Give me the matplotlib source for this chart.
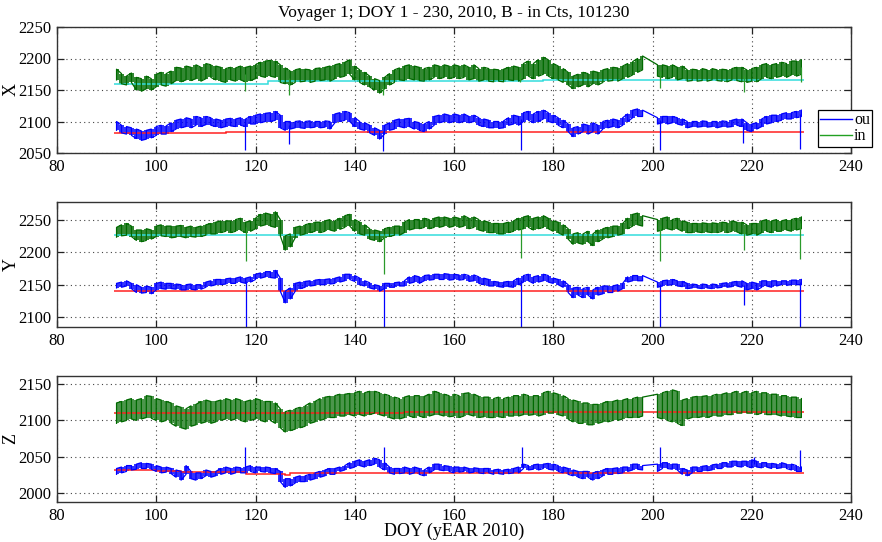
import matplotlib
matplotlib.use('Agg')
import matplotlib.pyplot as plt
import numpy as np
from matplotlib.lines import Line2D

plt.rcParams['font.family'] = ['Liberation Serif', 'DejaVu Serif']

N = None
# day-of-year bins (daily min/max)
DOY = list(range(92, 231))

# ---------------- X component ----------------
X_in_lo = [2166,2160,2158,2162,2150,2148,2152,2150,2155,2158,
           2156,2160,2165,2163,2166,2165,2168,2164,2168,2170,
           2166,2164,2162,2166,2164,2166,2163,2165,2168,2172,
           2170,2172,2170,2162,2160,2158,2162,2163,2164,2162,
           2164,2165,2166,2164,2168,2170,2172,2175,2166,2162,
           2158,2155,2150,2145,2152,2158,2162,2166,2165,2168,
           2166,2165,2164,2166,2170,2168,2170,2168,2170,2168,
           2170,2166,2168,2164,2166,2164,2163,2164,2163,2166,
           2165,2164,2168,2172,2168,2172,2175,2172,2168,2166,
           2162,2158,2152,2155,2158,2155,2160,2158,2162,2164,
           2165,2164,2168,2170,2174,2178,2182,N,N,2172,
           2170,2168,2170,2166,2168,2164,2165,2164,2165,2164,
           2166,2165,2164,2163,2166,2165,2163,2162,2164,2163,
           2168,2170,2168,2170,2172,2170,2174,2172,2175]
X_in_hi = [2183,2176,2172,2177,2170,2168,2172,2168,2175,2178,
           2176,2180,2186,2185,2188,2186,2190,2186,2192,2190,
           2188,2186,2184,2186,2185,2188,2186,2188,2190,2194,
           2196,2197,2196,2190,2185,2180,2182,2184,2183,2182,
           2184,2185,2186,2188,2190,2192,2194,2198,2188,2182,
           2178,2172,2168,2165,2170,2176,2182,2185,2188,2190,
           2188,2186,2184,2186,2190,2188,2190,2188,2190,2188,
           2190,2186,2190,2184,2186,2184,2183,2182,2183,2186,
           2188,2186,2192,2196,2192,2198,2202,2198,2192,2188,
           2184,2178,2172,2175,2178,2176,2180,2178,2182,2184,
           2186,2185,2188,2192,2195,2200,2204,N,N,2190,
           2190,2188,2190,2186,2188,2182,2183,2182,2184,2182,
           2184,2182,2183,2182,2184,2186,2186,2182,2184,2186,
           2190,2192,2190,2192,2194,2192,2196,2196,2198]
X_ou_lo = [2086,2082,2080,2078,2073,2070,2072,2074,2078,2080,
           2080,2084,2088,2090,2092,2090,2094,2092,2095,2094,
           2092,2090,2092,2093,2092,2094,2092,2096,2096,2098,
           2100,2100,2102,2090,2086,2088,2090,2090,2089,2090,
           2091,2090,2091,2088,2098,2100,2102,2100,2092,2088,
           2086,2082,2078,2072,2080,2086,2088,2092,2090,2092,
           2088,2086,2084,2088,2094,2098,2100,2098,2100,2098,
           2100,2098,2100,2094,2092,2090,2090,2089,2090,2094,
           2096,2094,2100,2102,2098,2100,2104,2100,2098,2094,
           2090,2084,2076,2080,2084,2080,2084,2080,2088,2090,
           2092,2090,2094,2100,2106,2108,2108,N,N,2096,
           2098,2096,2098,2096,2094,2090,2092,2091,2092,2091,
           2092,2090,2092,2091,2092,2094,2092,2086,2084,2088,
           2092,2096,2098,2100,2102,2104,2104,2106,2108]
X_ou_hi = [2100,2094,2092,2090,2088,2085,2086,2088,2092,2094,
           2093,2098,2102,2104,2106,2104,2108,2106,2108,2106,
           2104,2102,2104,2105,2104,2106,2104,2108,2110,2112,
           2113,2114,2116,2110,2100,2100,2100,2101,2100,2101,
           2100,2100,2101,2100,2112,2114,2116,2114,2106,2100,
           2098,2094,2090,2086,2094,2098,2102,2104,2104,2105,
           2100,2098,2096,2100,2108,2110,2112,2110,2112,2110,
           2112,2108,2110,2106,2104,2102,2100,2100,2101,2106,
           2110,2108,2114,2116,2112,2116,2118,2114,2110,2106,
           2102,2096,2090,2092,2096,2094,2098,2094,2100,2102,
           2104,2102,2106,2112,2118,2120,2118,N,N,2106,
           2108,2108,2108,2106,2104,2100,2100,2100,2101,2100,
           2100,2100,2101,2100,2102,2104,2104,2098,2096,2098,
           2104,2108,2110,2110,2112,2114,2114,2116,2118]
X_in_spike_doy = [117.9, 126.8, 145.6, 173.3, 201.6, 218.4, 229.9]
X_in_spike_val = [2148, 2142, 2142, 2163, 2153, 2147, 2163]
X_ou_spike_doy = [117.8, 126.8, 145.7, 173.5, 201.5, 218.3, 229.8]
X_ou_spike_val = [2054, 2065, 2053, 2055, 2055, 2066, 2056]
X_in_ref_edges = [91.5, 122.5, 178, 230.5]
X_in_ref_vals = [2160, 2164, 2166]
X_ou_ref_edges = [91.5, 114, 180, 230.5]
X_ou_ref_vals = [2082, 2083, 2084]

# ---------------- Y component ----------------
Y_in_lo = [2223,2225,2226,2224,2218,2216,2218,2220,2224,2225,
           2224,2222,2223,2224,2222,2224,2223,2224,2226,2228,
           2228,2230,2232,2230,2232,2234,2230,2232,2236,2240,
           2242,2240,2238,2225,2203,2208,2222,2226,2228,2230,
           2232,2230,2232,2234,2232,2235,2238,2240,2232,2228,
           2226,2220,2218,2216,2222,2224,2226,2226,2230,2234,
           2236,2236,2238,2236,2238,2238,2240,2238,2240,2238,
           2240,2236,2238,2234,2232,2230,2230,2228,2228,2230,
           2232,2234,2236,2238,2234,2236,2238,2236,2232,2230,
           2226,2220,2212,2214,2212,2216,2210,2216,2220,2222,
           2224,2226,2228,2236,2240,2242,2240,N,N,2232,
           2234,2236,2234,2236,2232,2230,2230,2231,2230,2231,
           2230,2230,2232,2230,2232,2231,2228,2226,2228,2226,
           2230,2232,2230,2232,2232,2234,2232,2234,2236]
Y_in_hi = [2238,2242,2244,2240,2234,2234,2236,2234,2240,2242,
           2240,2240,2240,2241,2238,2240,2238,2240,2242,2244,
           2246,2248,2248,2248,2250,2252,2246,2248,2252,2258,
           2260,2258,2262,2250,2225,2228,2238,2240,2242,2244,
           2246,2246,2248,2250,2248,2252,2256,2258,2250,2246,
           2242,2236,2234,2232,2236,2238,2240,2240,2246,2250,
           2250,2250,2252,2250,2252,2254,2254,2252,2254,2252,
           2256,2252,2254,2250,2248,2246,2244,2244,2244,2246,
           2248,2252,2254,2256,2252,2254,2256,2252,2248,2246,
           2242,2236,2228,2230,2228,2232,2228,2234,2236,2238,
           2240,2240,2244,2252,2258,2260,2256,N,N,2250,
           2252,2254,2250,2252,2248,2246,2244,2244,2245,2244,
           2245,2244,2246,2245,2248,2246,2246,2242,2244,2244,
           2248,2250,2248,2250,2248,2250,2250,2252,2254]
Y_ou_lo = [2145,2146,2148,2144,2138,2137,2138,2136,2142,2144,
           2143,2144,2143,2142,2142,2143,2142,2143,2146,2148,
           2150,2150,2151,2152,2152,2154,2152,2154,2158,2160,
           2162,2161,2160,2140,2122,2128,2140,2144,2146,2148,
           2149,2150,2150,2151,2152,2154,2156,2158,2155,2150,
           2148,2145,2143,2140,2144,2146,2146,2148,2148,2152,
           2154,2152,2156,2157,2158,2158,2158,2157,2158,2157,
           2158,2155,2156,2152,2150,2148,2148,2147,2146,2147,
           2146,2150,2154,2156,2152,2154,2156,2154,2152,2150,
           2146,2138,2130,2134,2130,2134,2128,2134,2136,2138,
           2138,2140,2144,2154,2156,2156,2156,N,N,2146,
           2148,2149,2150,2148,2147,2144,2145,2145,2144,2145,
           2144,2145,2146,2146,2147,2148,2146,2142,2144,2142,
           2146,2148,2146,2148,2150,2149,2150,2150,2150]
Y_ou_hi = [2152,2154,2156,2152,2150,2146,2148,2146,2152,2154,
           2152,2152,2151,2150,2150,2151,2150,2150,2154,2156,
           2158,2158,2159,2160,2160,2162,2160,2162,2166,2168,
           2170,2170,2172,2160,2140,2145,2152,2154,2155,2156,
           2157,2158,2158,2159,2160,2162,2166,2166,2164,2160,
           2156,2153,2150,2148,2152,2152,2153,2154,2156,2162,
           2164,2162,2164,2165,2166,2166,2167,2166,2166,2165,
           2166,2164,2165,2162,2160,2158,2155,2154,2154,2155,
           2156,2160,2164,2166,2162,2164,2166,2164,2160,2158,
           2156,2150,2145,2146,2144,2146,2142,2146,2148,2148,
           2148,2150,2152,2162,2164,2164,2164,N,N,2154,
           2156,2157,2158,2156,2155,2152,2151,2150,2151,2150,
           2151,2150,2152,2153,2154,2155,2156,2152,2154,2152,
           2156,2156,2156,2156,2156,2156,2157,2157,2158]
Y_in_spike_doy = [118.0, 145.8, 173.5, 201.6, 218.4, 229.8]
Y_in_spike_val = [2187, 2167, 2191, 2186, 2204, 2190]
Y_ou_spike_doy = [118.0, 145.8, 173.5, 201.6, 218.4, 229.8]
Y_ou_spike_val = [2080, 2080, 2080, 2080, 2119, 2080]
Y_in_ref_edges = [91.5, 230.5]
Y_in_ref_vals = [2227]
Y_ou_ref_edges = [91.5, 230.5]
Y_ou_ref_vals = [2140]

# ---------------- Z component ----------------
Z_in_lo = [2096,2098,2100,2102,2100,2102,2104,2103,2100,2098,
           2100,2096,2092,2090,2088,2092,2094,2096,2098,2096,
           2098,2100,2102,2100,2102,2100,2098,2100,2102,2100,
           2098,2100,2096,2090,2084,2086,2088,2090,2092,2096,
           2098,2100,2102,2104,2104,2106,2106,2108,2106,2108,
           2106,2108,2110,2108,2106,2104,2102,2102,2104,2106,
           2104,2106,2104,2106,2108,2108,2106,2105,2106,2104,
           2106,2108,2106,2104,2105,2104,2104,2105,2104,2106,
           2106,2106,2108,2107,2108,2106,2108,2110,2110,2108,
           2106,2102,2098,2096,2096,2094,2094,2096,2098,2098,
           2100,2100,2102,2104,2104,2104,2106,N,N,2104,
           2102,2100,2098,2096,2093,2102,2104,2104,2105,2104,
           2106,2106,2106,2108,2108,2110,2110,2110,2110,2108,
           2110,2108,2108,2108,2106,2106,2105,2104,2104]
Z_in_hi = [2124,2126,2128,2130,2128,2130,2134,2133,2130,2128,
           2126,2124,2120,2118,2116,2120,2122,2126,2128,2126,
           2126,2128,2130,2128,2130,2128,2126,2128,2130,2128,
           2126,2126,2124,2116,2112,2114,2116,2118,2120,2124,
           2126,2130,2132,2133,2134,2136,2136,2137,2138,2140,
           2138,2140,2140,2138,2136,2134,2132,2130,2132,2134,
           2134,2134,2133,2136,2140,2138,2136,2134,2136,2134,
           2137,2138,2136,2133,2132,2132,2130,2132,2130,2132,
           2134,2134,2136,2134,2134,2134,2138,2140,2138,2136,
           2134,2130,2128,2126,2124,2124,2122,2122,2124,2126,
           2126,2128,2128,2130,2130,2132,2132,N,N,2136,
           2138,2140,2142,2140,2128,2130,2132,2133,2133,2134,
           2134,2136,2136,2138,2138,2140,2138,2140,2138,2140,
           2138,2138,2136,2136,2134,2134,2132,2132,2130]
Z_ou_lo = [2026,2028,2030,2032,2033,2034,2034,2033,2030,2028,
           2029,2027,2022,2018,2026,2020,2018,2020,2024,2022,
           2024,2026,2028,2026,2028,2028,2028,2030,2028,2030,
           2029,2028,2027,2016,2008,2010,2014,2016,2016,2018,
           2020,2022,2024,2026,2026,2030,2032,2034,2036,2038,
           2036,2038,2040,2036,2032,2028,2026,2027,2028,2026,
           2028,2026,2024,2028,2032,2032,2031,2030,2028,2029,
           2030,2028,2029,2028,2027,2028,2026,2027,2026,2027,
           2028,2028,2034,2032,2033,2032,2034,2033,2032,2030,
           2028,2026,2024,2022,2020,2022,2018,2020,2024,2026,
           2026,2027,2028,2030,2032,2033,2032,N,N,2030,
           2034,2034,2033,2032,2026,2024,2028,2030,2030,2031,
           2032,2034,2034,2036,2036,2037,2036,2037,2035,2036,
           2035,2036,2034,2034,2035,2034,2032,2030,2030]
Z_ou_hi = [2034,2036,2038,2038,2040,2042,2041,2040,2038,2036,
           2036,2034,2032,2030,2038,2030,2028,2028,2032,2030,
           2030,2034,2036,2034,2036,2035,2036,2038,2036,2036,
           2036,2035,2034,2030,2020,2020,2022,2024,2024,2026,
           2028,2030,2032,2034,2034,2036,2038,2042,2044,2046,
           2044,2046,2048,2046,2042,2036,2034,2034,2036,2034,
           2036,2034,2032,2036,2040,2040,2038,2037,2036,2036,
           2036,2034,2035,2034,2034,2034,2032,2033,2032,2033,
           2034,2036,2040,2038,2039,2040,2040,2041,2040,2038,
           2036,2034,2032,2030,2030,2030,2028,2030,2032,2034,
           2034,2035,2036,2036,2040,2040,2038,N,N,2040,
           2042,2042,2040,2040,2034,2032,2036,2036,2037,2038,
           2039,2040,2042,2042,2044,2044,2044,2044,2046,2044,
           2042,2042,2041,2040,2042,2040,2040,2038,2036]
Z_in_spike_doy = []
Z_in_spike_val = []
Z_ou_spike_doy = [117.8, 145.9, 173.8, 201.6, 220.5, 229.8]
Z_ou_spike_val = [2063, 2063, 2063, 2063, 2050, 2059]
Z_in_ref_edges = [91.5, 150, 230.5]
Z_in_ref_vals = [2110, 2111]
Z_ou_ref_edges = [91.5, 100, 105, 118, 126, 127, 230.5]
Z_ou_ref_vals = [2032, 2030, 2029, 2027, 2025, 2028]

TITLE = "Voyager 1; DOY 1 - 230, 2010, B - in Cts, 101230"
XLABEL = "DOY (yEAR 2010)"

BLUE = '#0000ff'
GREEN = '#006a00'
CYAN = '#33dddd'
RED = '#ff2020'


def valid(days, lo, hi):
    d = [x for x, a in zip(days, lo) if a is not None]
    l = [a for a in lo if a is not None]
    h = [b for b in hi if b is not None]
    return np.array(d, float), np.array(l, float), np.array(h, float)


def minmax_path(d, lo, hi):
    xs, ys = [], []
    for k, (x, a, b) in enumerate(zip(d, lo, hi)):
        xs += [x, x]
        ys += [a, b] if k % 2 == 0 else [b, a]
    return xs, ys


def draw_series(ax, days, lo, hi, sd, sv, color, scolor, alpha):
    d, l, h = valid(days, lo, hi)
    # fill each contiguous run of days separately (no fill across data gaps)
    breaks = np.where(np.diff(d) > 1.5)[0] + 1
    for seg in np.split(np.arange(len(d)), breaks):
        ax.fill_between(d[seg], l[seg], h[seg], step='mid', color=color,
                        alpha=alpha, lw=0)
    xs, ys = minmax_path(d, l, h)
    ax.plot(xs, ys, color=color, lw=0.9)
    m = (l + h) / 2
    for x, v in zip(sd, sv):
        base = np.interp(x, d, m)
        ax.plot([x, x], [base, v], color=scolor, lw=0.9, solid_capstyle='butt')


panels = [
    dict(name='X', ylim=(2050, 2250), yticks=[2050, 2100, 2150, 2200, 2250],
         top=27, bot=153,
         inlo=X_in_lo, inhi=X_in_hi, oulo=X_ou_lo, ouhi=X_ou_hi,
         insd=X_in_spike_doy, insv=X_in_spike_val,
         ousd=X_ou_spike_doy, ousv=X_ou_spike_val,
         inref=(X_in_ref_edges, X_in_ref_vals, CYAN),
         ouref=(X_ou_ref_edges, X_ou_ref_vals, RED)),
    dict(name='Y', ylim=(2085, 2277), yticks=[2100, 2150, 2200, 2250],
         top=202, bot=327,
         inlo=Y_in_lo, inhi=Y_in_hi, oulo=Y_ou_lo, ouhi=Y_ou_hi,
         insd=Y_in_spike_doy, insv=Y_in_spike_val,
         ousd=Y_ou_spike_doy, ousv=Y_ou_spike_val,
         inref=(Y_in_ref_edges, Y_in_ref_vals, CYAN),
         ouref=(Y_ou_ref_edges, Y_ou_ref_vals, RED)),
    dict(name='Z', ylim=(1988, 2161), yticks=[2000, 2050, 2100, 2150],
         top=376, bot=502,
         inlo=Z_in_lo, inhi=Z_in_hi, oulo=Z_ou_lo, ouhi=Z_ou_hi,
         insd=Z_in_spike_doy, insv=Z_in_spike_val,
         ousd=Z_ou_spike_doy, ousv=Z_ou_spike_val,
         inref=(Z_in_ref_edges, Z_in_ref_vals, RED),
         ouref=(Z_ou_ref_edges, Z_ou_ref_vals, RED)),
]

W, H = 882, 542
fig = plt.figure(figsize=(W / 100, H / 100), dpi=100)
L, R = 57, 851

for p in panels:
    ax = fig.add_axes([L / W, 1 - p['bot'] / H, (R - L) / W, (p['bot'] - p['top']) / H])
    ax.set_xlim(80, 240)
    ax.set_ylim(*p['ylim'])
    ax.set_xticks([80, 100, 120, 140, 160, 180, 200, 220, 240])
    ax.set_yticks(p['yticks'])
    ax.grid(True, linestyle=(0, (1, 3)), color='#444444', lw=0.8)
    ax.set_axisbelow(True)
    ax.tick_params(direction='in', length=5, width=0.9, top=True, right=True,
                   labelsize=12, pad=4, colors='#222222', labelcolor='black')
    for s in ax.spines.values():
        s.set_color('#333333')
        s.set_linewidth(1.0)

    galpha = 0.7 if p['name'] == 'Z' else 0.8
    draw_series(ax, DOY, p['inlo'], p['inhi'], p['insd'], p['insv'], GREEN, '#2a9a2a', galpha)
    draw_series(ax, DOY, p['oulo'], p['ouhi'], p['ousd'], p['ousv'], BLUE, BLUE, 0.8)

    e, v, c = p['inref']
    ax.stairs(v, e, baseline=None, color=c, lw=1.1)
    e, v, c = p['ouref']
    ax.stairs(v, e, baseline=None, color=c, lw=1.1)

    ax.set_ylabel(p['name'], fontsize=13, labelpad=0)
    ax.yaxis.set_label_coords(-0.047, 0.5)

fig.text(454 / W, 1 - 13 / H, TITLE, ha='center', va='center', fontsize=12.5)
fig.text(454 / W, 1 - 531 / H, XLABEL, ha='center', va='center', fontsize=13)

handles = [Line2D([], [], color=BLUE, lw=1.0), Line2D([], [], color='#22a022', lw=1.0)]
leg = fig.legend(handles, ['ou', 'in'], loc='upper left',
                 bbox_to_anchor=(818 / W, 1 - 110 / H), bbox_transform=fig.transFigure,
                 frameon=True, fancybox=False, edgecolor='black', framealpha=1,
                 borderpad=0.15, handlelength=2.0, handletextpad=0.1,
                 labelspacing=0.0, fontsize=11.5, borderaxespad=0)
leg.get_frame().set_linewidth(0.9)

fig.savefig('out.png', dpi=100)
